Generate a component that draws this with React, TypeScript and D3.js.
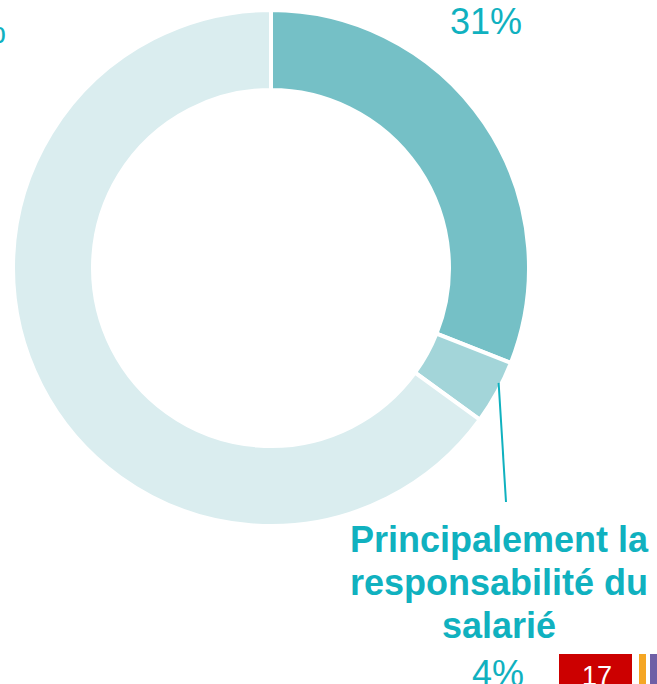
import React, { useEffect, useRef } from 'react';
import * as d3 from 'd3';

// slices in clockwise order starting at 12 o'clock
const categories = ['Principalement la responsabilité de l\'employeur', 'Principalement la responsabilité du salarié', 'Autre'];
const values = [31, 4, 65];
const percentLabels = ['31%', '4%', '65%'];
const sliceColors = ['#75c0c6', '#a3d5d9', '#daedef'];
const calloutLines = ['Principalement la', 'responsabilité du', 'salarié'];
const pageNumber = '17';

const W = 657;
const H = 684;
const TEAL = '#10b1bf';

const App = () => {
  const svgRef = useRef<SVGSVGElement>(null);

  useEffect(() => {
    const svg = d3.select(svgRef.current);
    svg.selectAll('*').remove();

    const cx = 271;
    const cy = 268;
    const outer = 258;
    const inner = 178;

    const data = categories.map((c, i) => ({ label: c, value: values[i], pct: percentLabels[i], color: sliceColors[i] }));

    const pie = d3.pie<any>().value(d => d.value).sort(null).startAngle(0).endAngle(2 * Math.PI);
    const arcs = pie(data);
    const arc = d3.arc<any>().innerRadius(inner).outerRadius(outer);

    const g = svg.append('g').attr('transform', `translate(${cx},${cy})`);

    g.selectAll('.slice')
      .data(arcs)
      .enter().append('path')
      .attr('class', 'slice')
      .attr('d', arc)
      .attr('fill', d => d.data.color)
      .attr('stroke', '#fff')
      .attr('stroke-width', 4)
      .attr('stroke-linejoin', 'miter');

    // leader line from the small slice to its label
    const small = arcs[1];
    const a = small.startAngle + (small.endAngle - small.startAngle) * 0.36;
    const r = outer - 3;
    g.append('line')
      .attr('x1', r * Math.sin(a))
      .attr('y1', -r * Math.cos(a))
      .attr('x2', 506 - cx)
      .attr('y2', 502 - cy)
      .attr('stroke', TEAL)
      .attr('stroke-width', 2);

    const font = "'Liberation Sans', Arial, sans-serif";

    // percentage labels
    svg.append('text')
      .attr('x', 450).attr('y', 34)
      .attr('font-family', font).attr('font-size', 36)
      .attr('fill', TEAL)
      .text(arcs[0].data.pct);

    svg.append('text')
      .attr('x', 6).attr('y', 43)
      .attr('text-anchor', 'end')
      .attr('font-family', font).attr('font-size', 36)
      .attr('fill', TEAL)
      .text(arcs[2].data.pct);

    const callout = svg.append('text')
      .attr('text-anchor', 'middle')
      .attr('font-family', font).attr('font-size', 36)
      .attr('font-weight', 'bold')
      .attr('fill', TEAL);
    calloutLines.forEach((line, i) => {
      callout.append('tspan').attr('x', 499).attr('y', 552 + i * 43).text(line);
    });

    svg.append('text')
      .attr('x', 498).attr('y', 686)
      .attr('text-anchor', 'middle')
      .attr('font-family', font).attr('font-size', 36)
      .attr('fill', TEAL)
      .text(arcs[1].data.pct);

    // page number badge
    svg.append('rect').attr('x', 559).attr('y', 654).attr('width', 73).attr('height', 40).attr('fill', '#cc0000');
    svg.append('rect').attr('x', 639).attr('y', 654).attr('width', 7).attr('height', 40).attr('fill', '#f5a623');
    svg.append('rect').attr('x', 650).attr('y', 654).attr('width', 7).attr('height', 40).attr('fill', '#6f5fa6');
    svg.append('text')
      .attr('x', 597).attr('y', 685)
      .attr('text-anchor', 'middle')
      .attr('font-family', font).attr('font-size', 27)
      .attr('fill', '#fff')
      .text(pageNumber);
  }, []);

  return (
    <svg
      ref={svgRef}
      width={W}
      height={H}
      style={{ position: 'absolute', left: 0, top: 0, background: '#fff', display: 'block' }}
    />
  );
};

export default App;
